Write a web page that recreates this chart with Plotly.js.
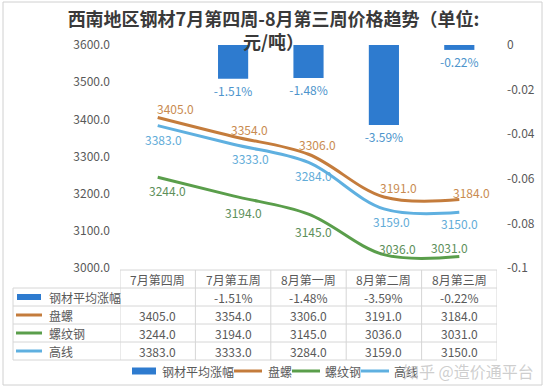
<!DOCTYPE html>
<html>
<head>
<meta charset="utf-8">
<script src="https://cdn.plot.ly/plotly-3.0.1.min.js"></script>
<style>
  html, body { margin: 0; padding: 0; background: #ffffff; }
  #chart { width: 547px; height: 392px; }
</style>
</head>
<body>
<div id="chart"></div>
<script>
// ---------------- DATA ----------------
const categories = ['7月第四周', '7月第五周', '8月第一周', '8月第二周', '8月第三周'];
const avgChange = [null, -0.0151, -0.0148, -0.0359, -0.0022];   // 钢材平均涨幅
const panluo    = [3405, 3354, 3306, 3191, 3184];                 // 盘螺
const luowen    = [3244, 3194, 3145, 3036, 3031];                 // 螺纹钢
const gaoxian   = [3383, 3333, 3284, 3159, 3150];                 // 高线
const seriesNames = ['钢材平均涨幅', '盘螺', '螺纹钢', '高线'];
const leftTickVals  = [3000, 3100, 3200, 3300, 3400, 3500, 3600];
const rightTickVals = [0, -0.02, -0.04, -0.06, -0.08, -0.1];
const rightTickText = ['0', '-0.02', '-0.04', '-0.06', '-0.08', '-0.1'];
const titleText = '西南地区钢材7月第四周-8月第三周价格趋势（单位:<br>元/吨）';
const watermarkText = '知乎 @造价通平台';

// ---------------- STYLE ----------------
const FONT = '"Noto Sans CJK SC", "Noto Sans", sans-serif';
const TXT = '#595959';
const barColor = '#2e7bcf';
const lineColors  = ['#c47c3c', '#5a9e4b', '#5fb0e0'];
const labelColors = ['#c98b50', '#5d8f5a', '#62acd8'];
const barLabelColor = '#4d94cc';
const gridColor = '#d6d6d6';

// label offsets in px (dx right, dy down) per series / point
const lblDx = [[18, 16, 9, 15, 12], [10, 10, 5, 14, -10], [6, 17, 5, 8, 0]];
const lblDy = [[-9, -7, -10, -10, -7], [13, 17, 17, -6, -9], [14, 14, 13, 13, 11]];

// plot area geometry (px)
const L = 120, T = 45, W = 377, H = 223;
const fw = 547, fh = 392;
const px = x => (x - L) / W;
const py = y => (T + H - y) / H;

const lineSeries = [panluo, luowen, gaoxian];

// ---------------- TRACES ----------------
const traces = [];
traces.push({
  type: 'bar', x: categories, y: avgChange, yaxis: 'y2', name: seriesNames[0],
  marker: { color: barColor }, width: 0.4,
  text: avgChange.map(v => v === null ? '' : (v * 100).toFixed(2) + '%'),
  textposition: 'outside', constraintext: 'none', cliponaxis: false,
  textfont: { color: barLabelColor, size: 12, family: FONT },
  hoverinfo: 'skip', showlegend: false
});
lineSeries.forEach((s, i) => {
  traces.push({
    type: 'scatter', mode: 'lines', x: categories, y: s, name: seriesNames[i + 1],
    line: { color: lineColors[i], width: 3, shape: 'spline', smoothing: 1 },
    hoverinfo: 'skip', showlegend: false
  });
});

// ---------------- ANNOTATIONS ----------------
const annotations = [];
// point labels on lines
lineSeries.forEach((s, i) => {
  s.forEach((v, j) => {
    annotations.push({
      x: categories[j], y: v, xref: 'x', yref: 'y', text: v.toFixed(1),
      showarrow: false, xanchor: 'center', yanchor: 'middle',
      xshift: lblDx[i][j], yshift: -lblDy[i][j],
      font: { color: labelColors[i], size: 12, family: FONT }
    });
  });
});

// table geometry
const tabTop = 270, rowH = 18, tabLeft = 13, labelColRight = L, tabRight = L + W;
const nRows = 1 + seriesNames.length;
const rowCenter = r => tabTop + rowH * r + rowH / 2;

// header
categories.forEach(c => {
  annotations.push({
    x: c, xref: 'x', y: py(rowCenter(0)), yref: 'paper', text: c, showarrow: false,
    xanchor: 'center', yanchor: 'middle', font: { color: TXT, size: 12, family: FONT }
  });
});
// rows
const rowValues = [
  avgChange.map(v => v === null ? '' : (v * 100).toFixed(2) + '%'),
  panluo.map(v => v.toFixed(1)),
  luowen.map(v => v.toFixed(1)),
  gaoxian.map(v => v.toFixed(1))
];
seriesNames.forEach((name, r) => {
  annotations.push({
    x: px(47), xref: 'paper', y: py(rowCenter(r + 1)), yref: 'paper', text: name,
    showarrow: false, xanchor: 'left', yanchor: 'middle',
    font: { color: TXT, size: 12, family: FONT }
  });
  rowValues[r].forEach((t, j) => {
    if (t === '') return;
    annotations.push({
      x: categories[j], xref: 'x', y: py(rowCenter(r + 1)), yref: 'paper', text: t,
      showarrow: false, xanchor: 'center', yanchor: 'middle',
      font: { color: TXT, size: 12, family: FONT }
    });
  });
});

// custom legend
const legY = 371;
const legItems = [
  { key: 'bar', x0: 132, x1: 156, tx: 160 },
  { key: 'line', x0: 234, x1: 262, tx: 266 },
  { key: 'line', x0: 292, x1: 320, tx: 323 },
  { key: 'line', x0: 361, x1: 389, tx: 392 }
];
legItems.forEach((it, i) => {
  annotations.push({
    x: px(it.tx), xref: 'paper', y: py(legY), yref: 'paper', text: seriesNames[i],
    showarrow: false, xanchor: 'left', yanchor: 'middle',
    font: { color: TXT, size: 12, family: FONT }
  });
});
// watermark text
annotations.push({
  x: px(401), xref: 'paper', y: py(371), yref: 'paper', text: watermarkText,
  showarrow: false, xanchor: 'left', yanchor: 'middle',
  font: { color: 'rgba(190,190,190,0.75)', size: 16, family: FONT }
});

// ---------------- SHAPES ----------------
const shapes = [];
// outer frame
shapes.push({ type: 'rect', xref: 'paper', yref: 'paper',
  x0: px(3), x1: px(542), y0: py(385), y1: py(2),
  line: { color: '#d0d0d0', width: 1 }, fillcolor: 'rgba(0,0,0,0)', layer: 'below' });
// table horizontal lines
for (let r = 0; r <= nRows; r++) {
  const y = tabTop + rowH * r;
  const x0 = r === 0 ? labelColRight : tabLeft;
  shapes.push({ type: 'line', xref: 'paper', yref: 'paper',
    x0: px(x0), x1: px(tabRight), y0: py(y), y1: py(y),
    line: { color: gridColor, width: 1 } });
}
// table vertical lines
shapes.push({ type: 'line', xref: 'paper', yref: 'paper',
  x0: px(tabLeft), x1: px(tabLeft), y0: py(tabTop + rowH), y1: py(tabTop + rowH * nRows),
  line: { color: gridColor, width: 1 } });
for (let j = 0; j <= categories.length; j++) {
  shapes.push({ type: 'line', xref: 'x', yref: 'paper',
    x0: j - 0.5, x1: j - 0.5, y0: py(tabTop), y1: py(tabTop + rowH * nRows),
    line: { color: gridColor, width: 1 } });
}
// table legend keys
seriesNames.forEach((n, r) => {
  const yc = rowCenter(r + 1);
  if (r === 0) {
    shapes.push({ type: 'rect', xref: 'paper', yref: 'paper',
      x0: px(17), x1: px(41), y0: py(yc + 3), y1: py(yc - 3),
      fillcolor: barColor, line: { width: 0 } });
  } else {
    shapes.push({ type: 'line', xref: 'paper', yref: 'paper',
      x0: px(16), x1: px(42), y0: py(yc), y1: py(yc),
      line: { color: lineColors[r - 1], width: 3 } });
  }
});
// bottom legend keys
legItems.forEach((it, i) => {
  if (it.key === 'bar') {
    shapes.push({ type: 'rect', xref: 'paper', yref: 'paper',
      x0: px(it.x0), x1: px(it.x1), y0: py(legY + 3.5), y1: py(legY - 3.5),
      fillcolor: barColor, line: { width: 0 } });
  } else {
    shapes.push({ type: 'line', xref: 'paper', yref: 'paper',
      x0: px(it.x0), x1: px(it.x1), y0: py(legY), y1: py(legY),
      line: { color: lineColors[i - 1], width: 3 } });
  }
});

// ---------------- LAYOUT ----------------
const layout = {
  width: fw, height: fh,
  margin: { l: L, r: fw - L - W, t: T, b: fh - T - H, pad: 0 },
  paper_bgcolor: '#ffffff', plot_bgcolor: 'rgba(0,0,0,0)',
  font: { family: FONT, color: TXT, size: 12 },
  title: {
    text: titleText, x: 0.5, xref: 'container', xanchor: 'center',
    y: 1 - 26 / fh, yref: 'container', yanchor: 'top',
    font: { family: FONT, size: 18, color: '#3a3a3a', weight: 'bold' }
  },
  showlegend: false,
  xaxis: {
    type: 'category', range: [-0.5, 4.5], showticklabels: false, ticks: '',
    showgrid: false, zeroline: false, showline: false, fixedrange: true
  },
  yaxis: {
    range: [3000, 3600], tickvals: leftTickVals, tickformat: '.1f', ticks: '',
    showgrid: false, zeroline: false, showline: false, ticklabelstandoff: 9,
    tickfont: { color: TXT, size: 12, family: FONT }
  },
  yaxis2: {
    overlaying: 'y', side: 'right', range: [-0.1, 0],
    tickvals: rightTickVals, ticktext: rightTickText, ticks: '',
    showgrid: false, zeroline: false, showline: false, ticklabelstandoff: 9,
    tickfont: { color: TXT, size: 12, family: FONT }
  },
  shapes: shapes,
  annotations: annotations
};

Plotly.newPlot('chart', traces, layout, { staticPlot: true, displayModeBar: false });
</script>
</body>
</html>
